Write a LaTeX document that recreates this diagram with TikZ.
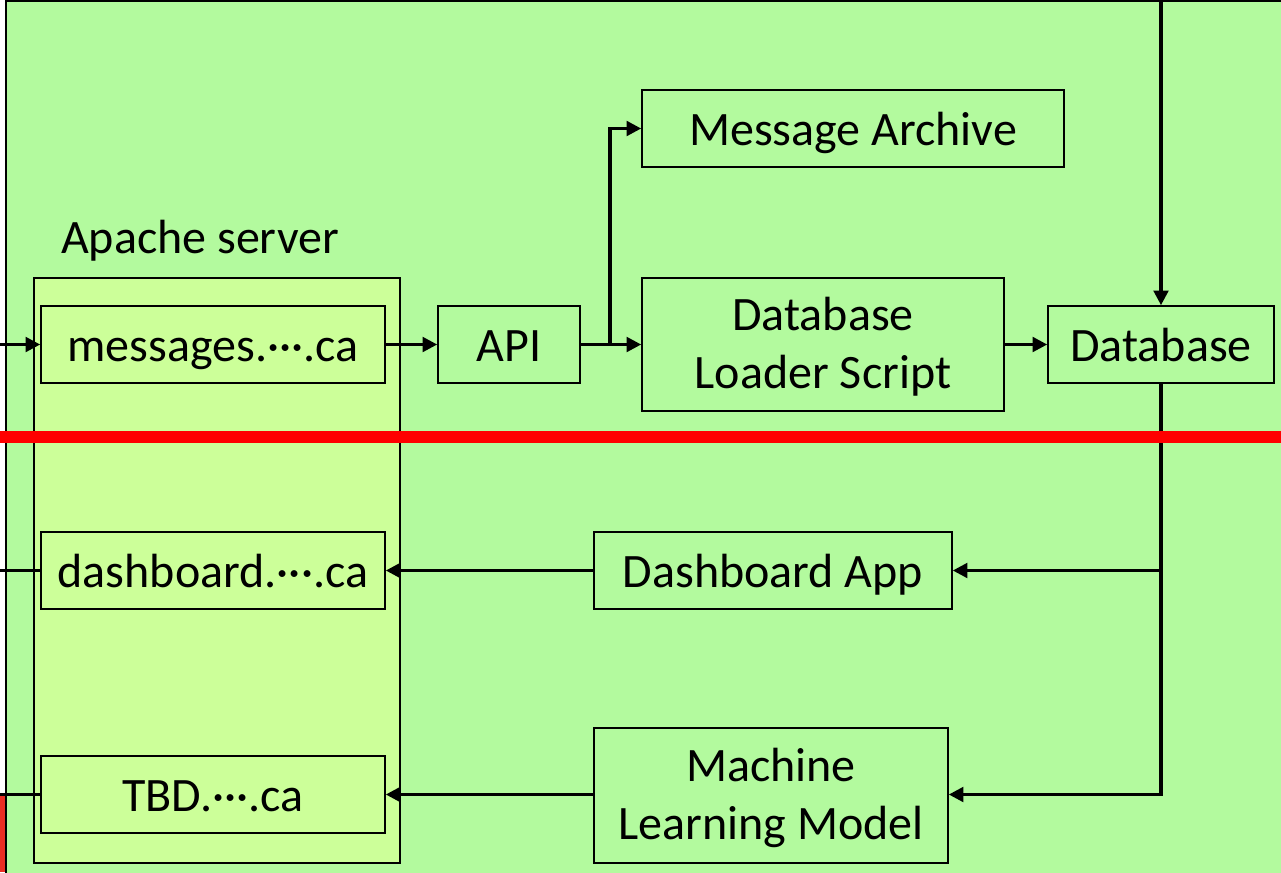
\documentclass[tikz,border=0pt]{standalone}
\usepackage{fontspec}
\setmainfont{Carlito}
\usepackage{tikz}
\usetikzlibrary{arrows.meta}

\definecolor{bggreen}{RGB}{179,250,158}
\definecolor{apachefill}{RGB}{204,255,153}
\definecolor{cutred}{RGB}{255,0,0}
\definecolor{edgered}{RGB}{235,45,35}

\tikzset{
  box/.style={draw, line width=1.2pt, inner sep=0pt, align=center,
    font=\fontsize{36}{44}\selectfont},
  oneline/.style={box, text height=25pt, text depth=0pt},
  twoline/.style={box, text depth=2.5pt},
  flow/.style={line width=2.4pt, -{Triangle[length=11pt,width=11pt]}},
  link/.style={line width=2.4pt}
}

\begin{document}
\begin{tikzpicture}[x=0.75pt,y=0.75pt,yscale=-1,xscale=1]
\useasboundingbox (0,0) rectangle (1281,872);

% background
\fill[white] (0,0) rectangle (1281,872);
\draw[fill=bggreen, line width=1.5pt] (6,1) rectangle (1300,900);
\fill[edgered] (0,795) rectangle (5,872);

% Apache server group
\node[box, fill=apachefill, minimum width=274.5pt, minimum height=438.75pt] (apache) at (217,570.5) {};
\node[font=\fontsize{36}{44}\selectfont] (apachelbl) at (200,241) {Apache server};

% Text Node
\node[oneline, fill=apachefill, minimum width=258pt, minimum height=57.75pt] (msg) at (213,344.5) {messages.···.ca};
% Text Node
\node[oneline, fill=apachefill, minimum width=258pt, minimum height=57.75pt] (dash) at (213,570.5) {dashboard.···.ca};
% Text Node
\node[oneline, fill=apachefill, minimum width=258pt, minimum height=57.75pt] (tbd) at (213,794.5) {TBD.···.ca};
% Text Node
\node[oneline, minimum width=106.5pt, minimum height=57.75pt] (api) at (509,344.5) {API};
% Text Node
\node[oneline, minimum width=316.5pt, minimum height=57.75pt] (arch) at (853,128.5) {Message Archive};
% Text Node
\node[twoline, minimum width=271.5pt, minimum height=99.75pt] (dls) at (823,344.5) {Database\\Loader Script};
% Text Node
\node[oneline, minimum width=169.5pt, minimum height=57.75pt] (db) at (1161,344.5) {Database};
% Text Node
\node[oneline, minimum width=268.5pt, minimum height=57.75pt] (app) at (773,570.5) {Dashboard App};
% Text Node
\node[twoline, minimum width=265.5pt, minimum height=101.25pt] (ml) at (771,795.5) {Machine\\Learning Model};

% free ends
\coordinate (inmsg) at (0,344.5);
\coordinate (outdash) at (0,570.5);
\coordinate (outtbd) at (0,794.5);
\coordinate (topin) at (1161,0);
\coordinate (split) at (610,344.5);

% Connection
\draw[flow] (inmsg) -- (msg.west);
\draw[flow] (msg.east) -- (api.west);
\draw[flow] (api.east) -- (dls.west);
\draw[flow] (split) |- (arch.west);
\draw[flow] (dls.east) -- (db.west);
\draw[flow] (topin) -- (db.north);
\draw[flow] (db.south) |- (ml.east |- tbd.east);
\draw[flow] (db.south |- app.east) -- (app.east);
\draw[flow] (app.west) -- (dash.east);
\draw[flow] (ml.west |- tbd.east) -- (tbd.east);
\draw[link] (dash.west) -- (outdash);
\draw[link] (tbd.west) -- (outtbd);

% red divider
\draw[cutred, line width=9pt] (0,437) -- (1281,437);

\end{tikzpicture}
\end{document}
